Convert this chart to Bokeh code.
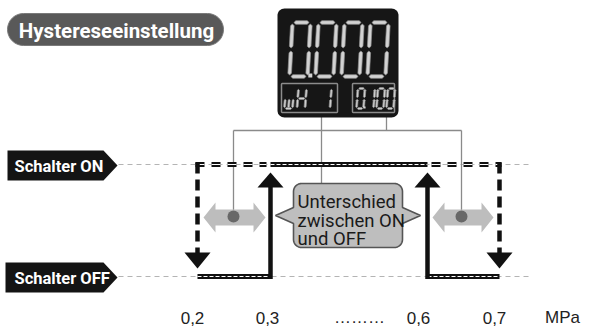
import math
from bokeh.plotting import figure
from bokeh.models import Range1d
from bokeh.core.properties import value
from bokeh.embed import file_html
from bokeh.resources import INLINE

# ---------------- data ----------------
title_text = "Hystereseeinstellung"
level_labels = ["Schalter ON", "Schalter OFF"]
tick_labels = ["0,2", "0,3", "………", "0,6", "0,7", "MPa"]
tick_x = [192, 267, 359, 418, 494, 562]
callout_lines = ["Unterschied", "zwischen ON", "und OFF"]
big_display = "0.000"
small_left = "wH 1"
small_right = "0.100"
# switching pressures (MPa) and their x-position on the drawing
switch_pressures = [0.2, 0.3, 0.6, 0.7]
switch_x = [197, 270, 427, 499]

COND = "Roboto"
SANS = "Liberation Sans"

W, H = 597, 334
p = figure(width=W, height=H, x_range=Range1d(0, W), y_range=Range1d(H, 0),
           output_backend="svg", toolbar_location=None, min_border=0)
p.axis.visible = False
p.grid.visible = False
p.outline_line_color = None
p.background_fill_color = "white"


def round_rect(x0, y0, x1, y1, r, n=8):
    xs, ys = [], []
    corners = [(x1 - r, y0 + r, -90, 0), (x1 - r, y1 - r, 0, 90),
               (x0 + r, y1 - r, 90, 180), (x0 + r, y0 + r, 180, 270)]
    for cx, cy, a0, a1 in corners:
        for i in range(n + 1):
            a = math.radians(a0 + (a1 - a0) * i / n)
            xs.append(cx + r * math.cos(a))
            ys.append(cy + r * math.sin(a))
    return xs, ys


px = dict(zip(switch_pressures, switch_x))
y_on, y_off = 164, 276

# ---------------- guide lines ----------------
for yy in (y_on, y_off):
    p.line([118, 530], [yy, yy], line_color="#b4b4b4", line_width=1.2, line_dash="5 4")

# ---------------- connector lines ----------------
cc = "#8a8a8a"
p.line([233, 461], [130, 130], line_color=cc, line_width=1.3)
p.line([233, 233], [130, 216], line_color=cc, line_width=1.3)
p.line([461, 461], [130, 216], line_color=cc, line_width=1.3)
p.line([321, 321], [116, 184], line_color=cc, line_width=1.3)
p.line([386, 386], [116, 130], line_color=cc, line_width=1.3)

# ---------------- gray double arrows ----------------
def dbl_arrow(xl, xr, yc):
    hl, sh, hh = 12, 8, 15
    xs = [xl, xl + hl, xl + hl, xr - hl, xr - hl, xr, xr - hl, xr - hl, xl + hl, xl + hl]
    ys = [yc, yc - hh, yc - sh, yc - sh, yc - hh, yc, yc + hh, yc + sh, yc + sh, yc + hh]
    return xs, ys

for xl, xr, xd in ((203, 265, 233), (432, 493, 461)):
    xs, ys = dbl_arrow(xl, xr, 217)
    p.patch(xs, ys, fill_color="#bdbdbd", line_color=None)
    p.scatter([xd], [216], size=12, fill_color="#686868", line_color=None)

# ---------------- callout ----------------
def callout_shape(x0, y0, x1, y1, r, tipl, tipr, yc, hb, n=8):
    xs, ys = [], []
    def arc(cx, cy, a0, a1):
        for i in range(n + 1):
            a = math.radians(a0 + (a1 - a0) * i / n)
            xs.append(cx + r * math.cos(a)); ys.append(cy + r * math.sin(a))
    arc(x1 - r, y0 + r, -90, 0)
    xs += [x1, tipr, x1]; ys += [yc - hb, yc, yc + hb]
    arc(x1 - r, y1 - r, 0, 90)
    arc(x0 + r, y1 - r, 90, 180)
    xs += [x0, tipl, x0]; ys += [yc + hb, yc, yc - hb]
    arc(x0 + r, y0 + r, 180, 270)
    return xs, ys

cx_, cy_ = callout_shape(293, 183, 402, 247, 8, 275, 420, 215, 8)
p.patch(cx_, cy_, fill_color="#bebebe", line_color="#555555", line_width=1.6)
p.text(x=[297] * 3, y=[201, 220, 238], text=callout_lines, text_font=value(COND),
       text_font_size=value("18.5px"), text_color="#1a1a1a", text_baseline="middle",
       text_align="left")

# ---------------- hysteresis lines ----------------
def double_line(x, y, dash=None):
    kw = {} if dash is None else {"line_dash": dash}
    p.line(x, y, line_color="#111111", line_width=5, **kw)
    if dash is None:
        p.line(x, y, line_color="white", line_width=1.1, line_dash="4 2")
    else:
        p.line(x, y, line_color="white", line_width=1.1, line_dash=dash)

x02, x03, x06, x07 = px[0.2], px[0.3], px[0.6], px[0.7]
double_line([x03, x06], [y_on, y_on])
double_line([x02 - 2, x03 - 4], [y_on, y_on], dash="9 7")
double_line([x06 + 4, x07 + 2], [y_on, y_on], dash="9 7")
double_line([x02, x03], [y_off, y_off])
double_line([x06, x07], [y_off, y_off])

# descending (dashed) arrows at 0.2 / 0.7
for xx in (x02, x07):
    p.line([xx, xx], [y_on - 2, 253], line_color="#111111", line_width=4.5, line_dash="11 6")
    p.patch([xx - 13, xx + 13, xx], [252, 252, 268], fill_color="#111111", line_color=None)
# rising (solid) arrows at 0.3 / 0.6
for xx in (x03, x06):
    p.line([xx, xx], [y_off + 2.5, 186], line_color="#111111", line_width=4.5)
    p.patch([xx - 13, xx + 13, xx], [187, 187, 172], fill_color="#111111", line_color=None)

# ---------------- display ----------------
dx, dy = round_rect(277, 8, 398, 117, 7)
p.patch(dx, dy, fill_color="#161616", line_color=None)
for bx0, bx1 in ((281, 337), (352, 394)):
    bx, by = round_rect(bx0, 83, bx1, 112, 1)
    p.patch(bx, by, fill_color=None, line_color="#8c8c8c", line_width=1.5)

SEGS = {
    "a": ((0, 0), (1, 0)), "b": ((1, 0), (1, .5)), "c": ((1, .5), (1, 1)),
    "d": ((0, 1), (1, 1)), "e": ((0, .5), (0, 1)), "f": ((0, 0), (0, .5)),
    "g": ((0, .5), (1, .5)), "m": ((.5, .5), (.5, 1)),
}
CHARS = {"0": "abcdef", "1": "bc", "H": "bcefg", "w": "cdem", " ": ""}


def seg_polys(x0, y0, w, h, t, slant, chars, pitch):
    pxs, pys = [], []
    dots = []
    cx = x0
    for ch in chars:
        if ch == ".":
            dots.append((cx - pitch * 0.2, y0 + h))
            continue
        for s in CHARS[ch]:
            (u0, v0), (u1, v1) = SEGS[s]
            ax, ay, bx_, by_ = u0 * w, v0 * h, u1 * w, v1 * h
            L = math.hypot(bx_ - ax, by_ - ay)
            dxu, dyu = (bx_ - ax) / L, (by_ - ay) / L
            nx, ny = -dyu, dxu
            g = t * 0.4
            ax, ay = ax + dxu * g, ay + dyu * g
            bx_, by_ = bx_ - dxu * g, by_ - dyu * g
            ht = t / 2
            pts = [(ax, ay),
                   (ax + dxu * ht + nx * ht, ay + dyu * ht + ny * ht),
                   (bx_ - dxu * ht + nx * ht, by_ - dyu * ht + ny * ht),
                   (bx_, by_),
                   (bx_ - dxu * ht - nx * ht, by_ - dyu * ht - ny * ht),
                   (ax + dxu * ht - nx * ht, ay + dyu * ht - ny * ht)]
            pxs.append([cx + uu + slant * (1 - vv / h) for uu, vv in pts])
            pys.append([y0 + vv for uu, vv in pts])
        cx += pitch
    return pxs, pys, dots


segfill, segline = "#d2d2d2", "#8e8e8e"
for (x0, y0, w, h, t, sl, txt, pitch, dsz) in (
        (289, 22, 18, 54, 3.6, 3, big_display, 26, 4),
        (284, 88, 8, 20, 2.0, 1.5, small_left, 12.5, 2),
        (356, 88, 7, 20, 1.9, 1.5, small_right, 10, 2.2)):
    xs, ys, dots = seg_polys(x0, y0, w, h, t, sl, txt, pitch)
    p.patches(xs, ys, fill_color=segfill, line_color=segline, line_width=0.7)
    if dots:
        p.scatter([d[0] for d in dots], [d[1] - 1 for d in dots], size=dsz,
                  marker="square", fill_color=segfill, line_color=None)

# ---------------- title pill ----------------
tx, ty = round_rect(7, 13, 223, 45, 16)
p.patch(tx, ty, fill_color="#595959", line_color="#7a7a7a", line_width=1)
p.text(x=[116], y=[30], text=[title_text], text_font=value(COND), text_font_style="bold",
       text_font_size=value("20.5px"), text_color="white", text_align="center",
       text_baseline="middle")

# ---------------- level labels ----------------
for (yc, lab, xl) in ((165, level_labels[0], 7), (277, level_labels[1], 5)):
    p.patch([xl, 103, 117, 103, xl], [yc - 15, yc - 15, yc, yc + 15, yc + 15],
            fill_color="#141414", line_color=None)
    p.text(x=[14], y=[yc + 1], text=[lab], text_font=value(COND), text_font_style="bold",
           text_font_size=value("16.5px"), text_color="white", text_align="left",
           text_baseline="middle")

# ---------------- pressure axis labels ----------------
p.text(x=tick_x, y=[317] * len(tick_x), text=tick_labels, text_font=value(SANS),
       text_font_size=value("17px"), text_color="#222222", text_align="center",
       text_baseline="middle")

open("out.html", "w").write(file_html(p, INLINE))
